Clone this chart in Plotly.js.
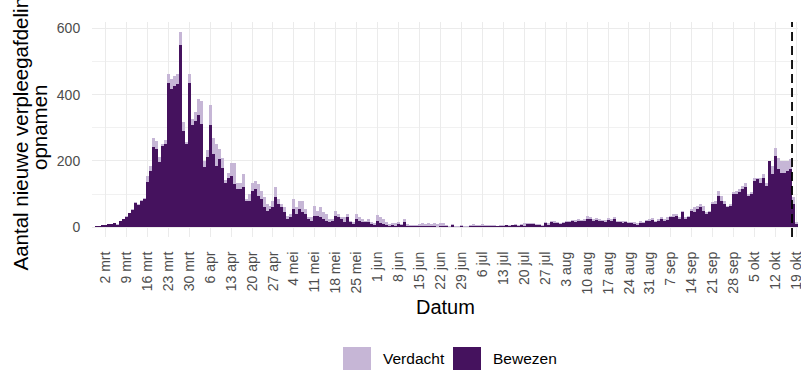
<!DOCTYPE html>
<html>
<head>
<meta charset="utf-8">
<script src="https://cdn.plot.ly/plotly-3.0.1.min.js"></script>
<style>
  html, body { margin: 0; padding: 0; background: #ffffff; }
  #chart { width: 801px; height: 371px; }
</style>
</head>
<body>
<div id="chart"></div>
<script>
// ---- data (daily admissions, first day = 27 feb 2020) ----
const startDate = '2020-02-27';

const bewezen = [
  2, 3, 4, 6, 7, 10, 9, 13, 8, 19, 25, 31, 42, 52, 74, 66, 78, 85, 136, 170,
  242, 235, 198, 245, 250, 436, 418, 425, 432, 550, 290, 252, 434, 310, 320, 340, 312, 182, 212, 310,
  222, 186, 205, 180, 135, 150, 155, 130, 115, 115, 120, 80, 80, 110, 115, 95, 85, 60, 50, 55,
  60, 90, 70, 60, 45, 25, 30, 55, 40, 55, 45, 40, 25, 20, 35, 35, 30, 25, 20, 15,
  20, 35, 30, 25, 15, 30, 15, 10, 25, 20, 15, 15, 15, 10, 8, 18, 12, 10, 8, 5,
  8, 5, 10, 6, 15, 5, 4, 3, 3, 4, 5, 4, 5, 3, 3, 2, 4, 5, 3, 2,
  6, 2, 2, 5, 2, 2, 4, 3, 3, 3, 5, 3, 4, 3, 5, 3, 3, 5, 6, 4,
  6, 7, 5, 6, 5, 10, 9, 10, 8, 7, 5, 12, 8, 15, 14, 12, 11, 12, 15, 16,
  18, 17, 20, 18, 20, 25, 24, 20, 22, 20, 18, 17, 22, 20, 24, 16, 15, 14, 16, 12,
  13, 11, 8, 14, 12, 18, 20, 22, 15, 20, 25, 20, 22, 30, 30, 35, 25, 45, 25, 30,
  50, 45, 55, 60, 50, 40, 45, 70, 70, 95, 80, 70, 60, 65, 100, 100, 105, 115, 120, 95,
  100, 140, 145, 135, 150, 125, 200, 160, 215, 175, 165, 165, 170, 175, 70, 10
];

const verdacht = [
  0, 0, 1, 1, 1, 0, 1, 1, 1, 1, 1, 2, 2, 3, 3, 4, 4, 3, 20, 15,
  28, 25, 14, 7, 12, 26, 30, 31, 30, 40, 28, 6, 28, 18, 28, 48, 70, 18, 20, 60,
  48, 64, 30, 30, 7, 15, 40, 65, 20, 20, 40, 6, 20, 25, 25, 35, 25, 30, 20, 10,
  20, 30, 15, 10, 15, 10, 10, 30, 20, 25, 35, 15, 5, 10, 30, 15, 30, 20, 20, 10,
  5, 15, 10, 5, 15, 10, 5, 5, 15, 10, 10, 5, 10, 5, 4, 20, 20, 15, 7, 5,
  4, 7, 5, 4, 10, 5, 4, 3, 5, 6, 7, 6, 7, 7, 9, 8, 8, 7, 5, 3,
  4, 3, 2, 3, 3, 2, 4, 7, 5, 5, 5, 5, 4, 3, 3, 2, 3, 3, 2, 3,
  2, 3, 3, 3, 7, 2, 3, 3, 2, 3, 3, 3, 4, 3, 4, 3, 3, 3, 5, 4,
  4, 6, 5, 4, 4, 8, 6, 5, 5, 4, 4, 4, 6, 5, 6, 4, 5, 4, 4, 4,
  4, 4, 4, 4, 3, 4, 5, 5, 5, 5, 5, 5, 8, 5, 10, 5, 5, 5, 5, 5,
  5, 15, 10, 10, 15, 5, 5, 5, 10, 15, 15, 10, 5, 5, 5, 10, 10, 10, 15, 5,
  5, 10, 5, 15, 10, 10, 0, 25, 25, 35, 35, 35, 30, 30, 20, 5
];

const tickDates = [
  '2020-03-02','2020-03-09','2020-03-16','2020-03-23','2020-03-30','2020-04-06','2020-04-13',
  '2020-04-20','2020-04-27','2020-05-04','2020-05-11','2020-05-18','2020-05-25','2020-06-01',
  '2020-06-08','2020-06-15','2020-06-22','2020-06-29','2020-07-06','2020-07-13','2020-07-20',
  '2020-07-27','2020-08-03','2020-08-10','2020-08-17','2020-08-24','2020-08-31','2020-09-07',
  '2020-09-14','2020-09-21','2020-09-28','2020-10-05','2020-10-12','2020-10-19'
];
const tickLabels = [
  '2 mrt','9 mrt','16 mrt','23 mrt','30 mrt','6 apr','13 apr',
  '20 apr','27 apr','4 mei','11 mei','18 mei','25 mei','1 jun',
  '8 jun','15 jun','22 jun','29 jun','6 jul','13 jul','20 jul',
  '27 jul','3 aug','10 aug','17 aug','24 aug','31 aug','7 sep',
  '14 sep','21 sep','28 sep','5 okt','12 okt','19 okt'
];
const yTicks = [0, 200, 400, 600];
const cutoffDate = '2020-10-17 12:00';

// consecutive daily dates for the bars
const dates = [];
{
  const d0 = new Date(startDate + 'T00:00:00Z');
  for (let i = 0; i < bewezen.length; i++) {
    const d = new Date(d0.getTime() + i * 86400000);
    dates.push(d.toISOString().slice(0, 10));
  }
}

const darkCol = '#45125e';
const lightCol = '#c6b6d6';
const FONT = 'Liberation Sans, Arial, sans-serif';

const traces = [
  { type: 'bar', name: 'Bewezen', x: dates, y: bewezen,
    marker: { color: darkCol, line: { width: 0 } }, showlegend: false, hoverinfo: 'x+y' },
  { type: 'bar', name: 'Verdacht', x: dates, y: verdacht,
    marker: { color: lightCol, line: { width: 0 } }, showlegend: false, hoverinfo: 'x+y' }
];

const L = 92, R = 3, T = 22, B = 134, W = 801, H = 371;
const pw = W - L - R, ph = H - T - B;
const px2x = p => (p - L) / pw;
const py2y = p => (H - B - p) / ph;

const layout = {
  width: W, height: H,
  margin: { l: L, r: R, t: T, b: B, pad: 0 },
  paper_bgcolor: '#ffffff', plot_bgcolor: '#ffffff',
  barmode: 'stack', bargap: 0,
  font: { family: FONT, color: '#000000' },
  xaxis: {
    type: 'date',
    range: ['2020-02-26 12:00', '2020-10-19 12:00'],
    tickmode: 'array', tickvals: tickDates, ticktext: tickLabels,
    tickangle: -90,
    tickfont: { family: FONT, size: 14, color: '#4d4d4d' },
    ticks: 'outside', ticklen: 8, tickcolor: 'rgba(0,0,0,0)',
    ticklabeloverflow: 'allow',
    showgrid: true, gridcolor: '#ebebeb', gridwidth: 1,
    zeroline: false, showline: false, fixedrange: true
  },
  yaxis: {
    range: [-29.5, 619.5],
    tickmode: 'array', tickvals: yTicks, ticktext: yTicks.map(String),
    tickfont: { family: FONT, size: 14, color: '#4d4d4d' },
    ticks: 'outside', ticklen: 8, tickcolor: 'rgba(0,0,0,0)',
    showgrid: true, gridcolor: '#ebebeb', gridwidth: 1,
    minor: { tickmode: 'linear', tick0: 0, dtick: 100, showgrid: true,
             gridcolor: '#f1f1f1', gridwidth: 1, ticks: '' },
    zeroline: false, showline: false, fixedrange: true
  },
  shapes: [
    { type: 'line', xref: 'x', yref: 'paper', x0: cutoffDate, x1: cutoffDate, y0: 0, y1: 1,
      line: { color: '#000000', width: 1.8, dash: '9px,5px' } },
    { type: 'rect', xref: 'paper', yref: 'paper', x0: px2x(343), x1: px2x(371), y0: py2y(370), y1: py2y(347),
      fillcolor: lightCol, line: { width: 0 } },
    { type: 'rect', xref: 'paper', yref: 'paper', x0: px2x(453), x1: px2x(481), y0: py2y(370), y1: py2y(347),
      fillcolor: darkCol, line: { width: 0 } }
  ],
  annotations: [
    { text: 'Datum', xref: 'paper', yref: 'paper', x: 0.5, y: py2y(307),
      xanchor: 'center', yanchor: 'middle', showarrow: false,
      font: { family: FONT, size: 20, color: '#000000' } },
    { text: 'Aantal nieuwe verpleegafdeling', xref: 'paper', yref: 'paper',
      x: px2x(20.5), y: py2y(128), xanchor: 'center', yanchor: 'middle', textangle: -90,
      showarrow: false, font: { family: FONT, size: 20.5, color: '#000000' } },
    { text: 'opnamen', xref: 'paper', yref: 'paper',
      x: px2x(40), y: py2y(128), xanchor: 'center', yanchor: 'middle', textangle: -90,
      showarrow: false, font: { family: FONT, size: 20.5, color: '#000000' } },
    { text: 'Verdacht', xref: 'paper', yref: 'paper', x: px2x(381), y: py2y(359),
      xanchor: 'left', yanchor: 'middle', showarrow: false,
      font: { family: FONT, size: 15.5, color: '#000000' } },
    { text: 'Bewezen', xref: 'paper', yref: 'paper', x: px2x(491), y: py2y(359),
      xanchor: 'left', yanchor: 'middle', showarrow: false,
      font: { family: FONT, size: 15.5, color: '#000000' } }
  ]
};

Plotly.newPlot('chart', traces, layout, { displayModeBar: false, staticPlot: true });
</script>
</body>
</html>
